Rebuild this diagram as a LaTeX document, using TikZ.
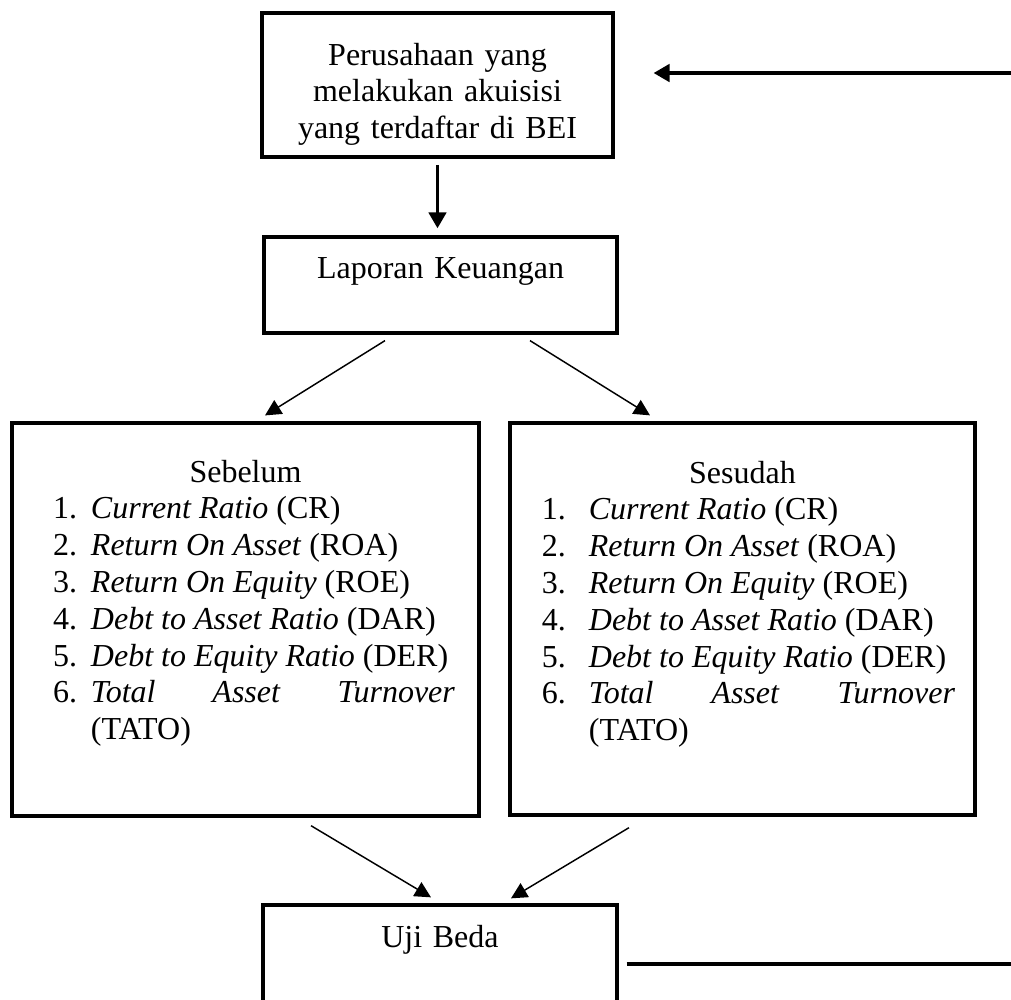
\documentclass[tikz,border=0pt]{standalone}
\usepackage{fontspec}
\setmainfont{Liberation Serif}
\usetikzlibrary{arrows.meta,calc,positioning}

\newlength{\indenlabel}
\newlength{\lebarlabel}
\newlength{\indenteks}
\newcommand{\butir}[2]{\par\noindent\hangindent=\indenteks\hangafter=1
  \hspace*{\indenlabel}\makebox[\lebarlabel][l]{#1}#2}
\newcommand{\daftarrasio}{%
  \butir{1.}{\mbox{\textit{Current Ratio} (CR)}}
  \butir{2.}{\mbox{\textit{Return On Asset} (ROA)}}
  \butir{3.}{\mbox{\textit{Return On Equity} (ROE)}}
  \butir{4.}{\mbox{\textit{Debt to Asset Ratio} (DAR)}}
  \butir{5.}{\mbox{\textit{Debt to Equity Ratio} (DER)}}
  \butir{6.}{\textit{Total}\hfill\textit{Asset}\hfill\textit{Turnover}\linebreak (TATO)}\par}

\begin{document}
\begin{tikzpicture}[x=0.375pt, y=-0.375pt,
  font=\fontsize{12pt}{13.8pt}\selectfont,
  kotak/.style={draw, line width=1.25pt, inner sep=0pt, anchor=base},
  panah/.style={-{Triangle[length=6pt,width=6pt]}, line width=0.55pt},
  panahtebal/.style={-{Triangle[length=6pt,width=6.5pt]}, line width=1.4pt}]
  \useasboundingbox (0,0) rectangle (1011,999);
  % Perusahaan
  \node[kotak, text width=131.6pt, align=center, text height=19.5pt, text depth=34.5pt]
    (perusahaan) at (437.5,65) {Perusahaan yang\\ melakukan akuisisi\\ yang terdaftar di BEI};
  % Laporan keuangan
  \node[kotak, text width=132.4pt, align=center, text height=15.4pt, text depth=20.6pt]
    (laporan) at (440.5,278) {Laporan Keuangan};
  % Sebelum dan sesudah
  \node[kotak, text height=22.1pt, text depth=125.25pt] (sebelum) at (245.5,482)
    {\begin{minipage}[t]{175.1pt}
    {\centering Sebelum\par}
    \setlength{\indenlabel}{15.4pt}\setlength{\lebarlabel}{14.2pt}\setlength{\indenteks}{29.6pt}%
    \rightskip=9pt\relax
    \daftarrasio
    \end{minipage}};
  \node[kotak, text height=22.5pt, text depth=124.5pt] (sesudah) at (742.5,483)
    {\begin{minipage}[t]{174.4pt}
    {\centering Sesudah\par}
    \setlength{\indenlabel}{12pt}\setlength{\lebarlabel}{17.6pt}\setlength{\indenteks}{29.6pt}%
    \rightskip=7.5pt\relax
    \daftarrasio
    \end{minipage}};
  % Uji beda
  \node[kotak, text width=132.75pt, align=center, text height=15.75pt, text depth=31pt]
    (ujibeda) at (440,947) {Uji Beda};
  % Arrows
  \coordinate (kananatas) at (1011,73);
  \coordinate (kananbawah) at (1011,964);
  \draw[panahtebal, shorten >=14.6pt] (kananatas) -- (perusahaan.east |- kananatas);
  \draw[panahtebal, shorten <=2.3pt, shorten >=2.6pt] (perusahaan.south) -- (perusahaan.south |- laporan.north);
  \draw[panah] ($(laporan.south)+(-55.5,6)$) -- ($(sebelum.north)+(19.5,-6)$);
  \draw[panah] ($(laporan.south)+(89.5,6)$) -- ($(sesudah.north)+(-92.5,-6)$);
  \draw[panah] ($(sebelum.south)+(65.5,8)$) -- ($(ujibeda.north)+(-9,-6)$);
  \draw[panah] ($(sesudah.south)+(-113.5,11)$) -- ($(ujibeda.north)+(71,-5)$);
  \draw[line width=1.3pt, shorten <=3pt] (ujibeda.east |- kananbawah) -- (kananbawah);
\end{tikzpicture}
\end{document}
